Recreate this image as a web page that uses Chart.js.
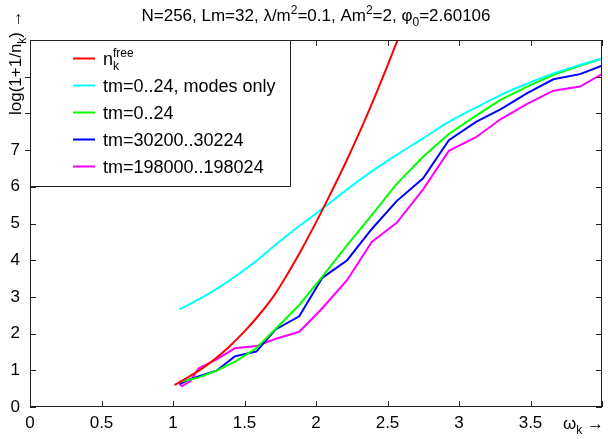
<!DOCTYPE html>
<html>
<head>
<meta charset="utf-8">
<script src="https://cdn.jsdelivr.net/npm/chart.js@4.4.1/dist/chart.umd.min.js"></script>
<style>
  body { margin: 0; background: #fff; }
  #wrap { width: 608px; height: 439px; position: relative; }
</style>
</head>
<body>
<div id="wrap"><canvas id="myCanvas"></canvas></div>
<script>
const FONT = "'Liberation Sans', Arial, sans-serif";

// x ticks / y ticks
const xTicks = [0, 0.5, 1, 1.5, 2, 2.5, 3, 3.5, 4];
const yTicks = [0, 1, 2, 3, 4, 5, 6, 7, 8, 9, 10];

// free spectrum (red)
const freeOmega = [1.01, 1.1, 1.2, 1.3, 1.4, 1.5, 1.6, 1.7, 1.8, 1.9, 2.0, 2.1, 2.2, 2.3, 2.4, 2.5, 2.6];
const freeLog = [0.6, 0.8, 1.04, 1.33, 1.67, 2.06, 2.5, 3.0, 3.62, 4.3, 5.03, 5.8, 6.6, 7.45, 8.35, 9.3, 10.3];

// lattice omega bins shared by the other curves
const omegaBins = [1.045, 1.065, 1.12, 1.178, 1.305, 1.432, 1.582, 1.72, 1.883, 2.044, 2.218, 2.39, 2.564, 2.749, 2.929, 3.119, 3.29, 3.477, 3.66, 3.846, 4.0];
const modesOnly = [2.66, 2.70, 2.81, 2.93, 3.22, 3.55, 3.98, 4.43, 4.93, 5.40, 5.93, 6.42, 6.87, 7.32, 7.77, 8.16, 8.50, 8.81, 9.09, 9.32, 9.50];
const tm0 = [0.69, 0.70, 0.75, 0.80, 0.99, 1.23, 1.60, 2.14, 2.78, 3.55, 4.41, 5.23, 6.08, 6.82, 7.44, 7.94, 8.37, 8.73, 9.05, 9.30, 9.49];
const tm30200 = [0.63, 0.66, 0.76, 0.83, 0.99, 1.38, 1.51, 2.12, 2.47, 3.52, 4.00, 4.85, 5.61, 6.23, 7.27, 7.77, 8.11, 8.55, 8.93, 9.07, 9.30];
const tm198000 = [0.62, 0.57, 0.70, 1.05, 1.30, 1.60, 1.66, 1.86, 2.05, 2.69, 3.46, 4.50, 5.02, 5.93, 6.98, 7.35, 7.84, 8.26, 8.62, 8.73, 9.07];

const seriesNames = ['n_k^free', 'tm=0..24, modes only', 'tm=0..24', 'tm=30200..30224', 'tm=198000..198024'];
const seriesColors = ['#ff0000', '#00ffff', '#00ff00', '#0000ff', '#ff00ff'];

function pts(xs, ys) {
  return xs.map(function (v, i) { return { x: v, y: ys[i] }; });
}

// draw text made of pieces, some raised or lowered
function richText(ctx, parts, x, y, big) {
  var cx = x;
  big = big || 17;
  parts.forEach(function (p) {
    var size = p.sup || p.sub ? 12 : big;
    ctx.font = size + 'px ' + FONT;
    var dy = p.sup ? -7 : (p.sub ? 5 : 0);
    ctx.fillText(p.t, cx, y + dy);
    cx += ctx.measureText(p.t).width;
  });
  return cx - x;
}
function richWidth(ctx, parts, big) {
  var w = 0;
  big = big || 17;
  parts.forEach(function (p) {
    ctx.font = (p.sup || p.sub ? 12 : big) + 'px ' + FONT;
    w += ctx.measureText(p.t).width;
  });
  return w;
}

const titleParts = [
  { t: 'N=256, Lm=32, \u03bb/m' }, { t: '2', sup: true }, { t: '=0.1, Am' }, { t: '2', sup: true },
  { t: '=2, \u03c6' }, { t: '0', sub: true }, { t: '=2.60106' }
];

const decorPlugin = {
  id: 'decor',
  afterDatasetsDraw(chart) {
    var ctx = chart.ctx, a = chart.chartArea;
    var xs = chart.scales.x, ys = chart.scales.y;
    ctx.save();
    ctx.strokeStyle = '#222';
    ctx.lineWidth = 1;
    ctx.strokeRect(Math.round(a.left) + 0.5, Math.round(a.top) + 0.5,
      Math.round(a.right - a.left) - 1, Math.round(a.bottom - a.top) - 1);
    ctx.beginPath();
    xTicks.forEach(function (v) {
      var px = Math.round(xs.getPixelForValue(v)) + 0.5;
      ctx.moveTo(px, a.bottom); ctx.lineTo(px, a.bottom - 6);
      ctx.moveTo(px, a.top); ctx.lineTo(px, a.top + 6);
    });
    yTicks.forEach(function (v) {
      var py = Math.round(ys.getPixelForValue(v)) + 0.5;
      ctx.moveTo(a.left, py); ctx.lineTo(a.left + 6, py);
      ctx.moveTo(a.right, py); ctx.lineTo(a.right - 6, py);
    });
    ctx.stroke();

    // legend box
    var lx = Math.round(a.left) + 0.5, ly = Math.round(a.top) + 0.5;
    var lw = 260, lh = 146;
    ctx.fillStyle = '#fff';
    ctx.fillRect(lx, ly, lw, lh);
    ctx.strokeRect(lx, ly, lw, lh);
    // ticks under the box are shown outside
    ctx.beginPath();
    yTicks.forEach(function (v) {
      var py = Math.round(ys.getPixelForValue(v)) + 0.5;
      if (py > ly && py < ly + lh) { ctx.moveTo(a.left - 5, py); ctx.lineTo(a.left, py); }
    });
    ctx.stroke();

    ctx.textBaseline = 'alphabetic';
    ctx.textAlign = 'left';
    chart.data.datasets.forEach(function (ds, i) {
      var cy = Math.round(a.top + 18 + i * 27) + 0.5;
      ctx.strokeStyle = ds.borderColor;
      ctx.lineWidth = 2;
      ctx.beginPath(); ctx.moveTo(a.left + 43, cy); ctx.lineTo(a.left + 65, cy); ctx.stroke();
      ctx.fillStyle = '#000';
      if (ds.label === 'n_k^free') {
        ctx.font = '18px ' + FONT;
        ctx.fillText('n', a.left + 73, cy + 6);
        var nx = a.left + 73 + ctx.measureText('n').width;
        ctx.font = '12px ' + FONT;
        ctx.fillText('k', nx, cy + 11);
        ctx.fillText('free', nx, cy - 2);
      } else {
        ctx.font = '18px ' + FONT;
        ctx.fillText(ds.label, a.left + 73, cy + 6);
      }
    });

    // title
    ctx.fillStyle = '#000';
    var tw = richWidth(ctx, titleParts);
    richText(ctx, titleParts, (a.left + a.right) / 2 - tw / 2, 21);

    // x axis title at the place of the last tick
    var xParts = [{ t: '\u03c9' }, { t: 'k', sub: true }, { t: ' \u2192' }];
    var xw = richWidth(ctx, xParts);
    richText(ctx, xParts, a.right + 2 - xw, 429);

    // y axis title, rotated
    ctx.save();
    ctx.translate(21, 115);
    ctx.rotate(-Math.PI / 2);
    richText(ctx, [{ t: 'log(1+1/n' }, { t: 'k', sub: true }, { t: ') \u2192' }], 0, 0);
    ctx.restore();
    ctx.restore();
  }
};

const ctx = document.getElementById('myCanvas').getContext('2d');
const lineData = [
  pts(freeOmega, freeLog),
  pts(omegaBins, modesOnly),
  pts(omegaBins, tm0),
  pts(omegaBins, tm30200),
  pts(omegaBins, tm198000)
];

const chart = new Chart(ctx, {
  type: 'line',
  data: {
    datasets: lineData.map(function (d, i) {
      return {
        label: seriesNames[i],
        data: d,
        borderColor: seriesColors[i],
        backgroundColor: seriesColors[i],
        borderWidth: 2,
        pointRadius: 0,
        fill: false,
        cubicInterpolationMode: (i < 2) ? 'monotone' : 'default',
        tension: 0
      };
    })
  },
  options: {
    responsive: true,
    maintainAspectRatio: false,
    animation: false,
    layout: { padding: { top: 40, right: 1, left: 0, bottom: 0 } },
    plugins: { legend: { display: false }, title: { display: false }, tooltip: { enabled: false } },
    scales: {
      x: {
        type: 'linear', min: 0, max: 4,
        afterBuildTicks: function (s) { s.ticks = xTicks.map(function (v) { return { value: v }; }); },
        afterFit: function (s) { s.height = 32; },
        grid: { display: false, drawTicks: false },
        border: { display: false },
        ticks: {
          padding: 6, color: '#000', font: { family: FONT, size: 17 }, maxRotation: 0,
          callback: function (v) { return v === 4 ? '' : String(v); }
        }
      },
      y: {
        type: 'linear', min: 0, max: 10,
        afterBuildTicks: function (s) { s.ticks = yTicks.map(function (v) { return { value: v }; }); },
        afterFit: function (s) { s.width = 30; },
        grid: { display: false, drawTicks: false },
        border: { display: false },
        ticks: {
          padding: 10, color: '#000', font: { family: FONT, size: 17 },
          callback: function (v) { return v <= 7 ? String(v) : ''; }
        }
      }
    }
  },
  plugins: [decorPlugin]
});
</script>
</body>
</html>
